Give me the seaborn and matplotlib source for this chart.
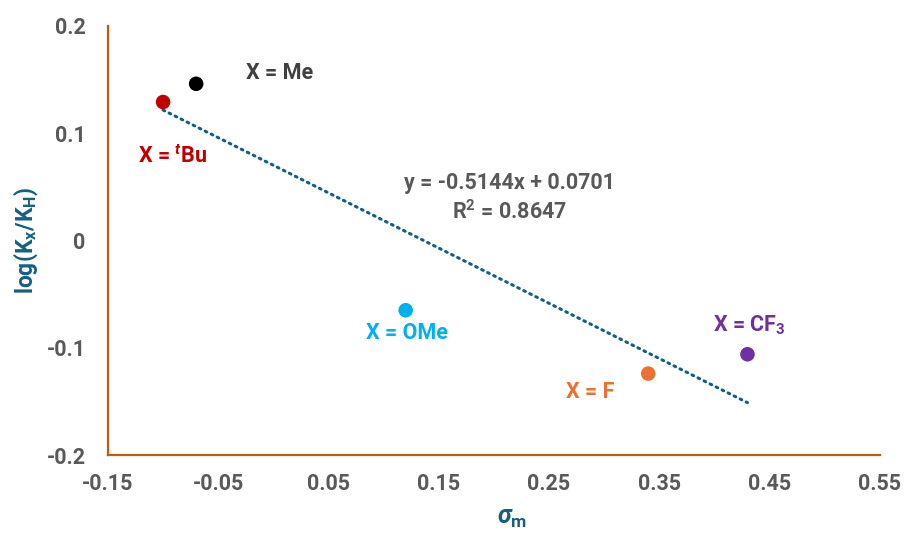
import numpy as np
import pandas as pd
import matplotlib
matplotlib.use('Agg')
import matplotlib.pyplot as plt
import seaborn as sns

# data
substituents = ['tBu', 'Me', 'OMe', 'F', 'CF3']
sigma_m = [-0.10, -0.07, 0.12, 0.34, 0.43]
log_k = [0.129, 0.146, -0.065, -0.124, -0.106]
point_colors = ['#C00000', '#000000', '#00B0F0', '#E97132', '#7030A0']
labels = ['X = $^{\\mathit{t}}$Bu', 'X = Me', 'X = OMe', 'X = F', 'X = CF$_3$']
label_x = [-0.091, 0.006, 0.121, 0.287, 0.432]
label_y = [0.078, 0.156, -0.086, -0.141, -0.079]

slope = -0.5144
intercept = 0.0701
r2 = 0.8647

x_ticks = [-0.15, -0.05, 0.05, 0.15, 0.25, 0.35, 0.45, 0.55]
y_ticks = [-0.2, -0.1, 0, 0.1, 0.2]
y_tick_labels = ['-0.2', '-0.1', '0', '0.1', '0.2']

df = pd.DataFrame({'sub': substituents, 'sigma': sigma_m, 'logk': log_k})

sns.set_style('white')
plt.rcParams['font.family'] = ['Roboto', 'DejaVu Sans']
plt.rcParams['font.weight'] = 'bold'
plt.rcParams['mathtext.fontset'] = 'custom'
plt.rcParams['mathtext.rm'] = 'Roboto:bold'
plt.rcParams['mathtext.bf'] = 'Roboto:bold'
plt.rcParams['mathtext.it'] = 'Roboto:bold:italic'

fig, ax = plt.subplots(figsize=(9.07, 5.38), dpi=100)
fig.subplots_adjust(left=0.119, right=0.970, top=0.952, bottom=0.154)

# trendline
trend_x = np.array([min(sigma_m), max(sigma_m)])
trend = pd.DataFrame({'x': trend_x, 'y': slope * trend_x + intercept})
sns.lineplot(data=trend, x='x', y='y', ax=ax, color='#156082', linewidth=2.2,
             linestyle=(0, (0.6, 1.6)), dash_capstyle='round', zorder=2)

sns.scatterplot(data=df, x='sigma', y='logk', hue='sub', palette=point_colors,
                s=110, edgecolor='none', legend=False, ax=ax, zorder=3)

for lab, lx, ly, c in zip(labels, label_x, label_y, point_colors):
    if c == '#000000':
        c = '#404040'
    ax.text(lx, ly, lab, color=c, fontsize=15.5, fontweight='bold',
            ha='center', va='center')

ax.text(0.2145, 0.0536, 'y = -0.5144x + 0.0701', color='#595959', fontsize=15.5,
        fontweight='bold', ha='center', va='center')
ax.text(0.2145, 0.0266, 'R$^2$ = %.4f' % r2, color='#595959', fontsize=15.5,
        fontweight='bold', ha='center', va='center')

ax.set_xlim(-0.15, 0.55)
ax.set_ylim(-0.2, 0.2)
ax.set_xticks(x_ticks)
ax.set_xticklabels(['%.2f' % t for t in x_ticks])
ax.set_yticks(y_ticks)
ax.set_yticklabels(y_tick_labels)
ax.tick_params(length=0, labelsize=15.5, labelcolor='#595959')
ax.tick_params(axis='y', pad=16)
ax.tick_params(axis='x', pad=13)
for t in ax.get_xticklabels() + ax.get_yticklabels():
    t.set_fontweight('bold')

ax.set_xlabel('$\\sigma_\\mathrm{m}$', fontsize=18, color='#156082')
ax.set_ylabel('log(K$_\\mathrm{x}$/K$_\\mathrm{H}$)', fontsize=16.5, color='#156082',
              fontweight='bold')
ax.xaxis.set_label_coords(0.523, -0.118)
ax.yaxis.set_label_coords(-0.088, 0.5)

for side in ['top', 'right']:
    ax.spines[side].set_visible(False)
for side in ['left', 'bottom']:
    ax.spines[side].set_color('#C65911')
    ax.spines[side].set_linewidth(1.6)

plt.savefig('out.png', dpi=100)
